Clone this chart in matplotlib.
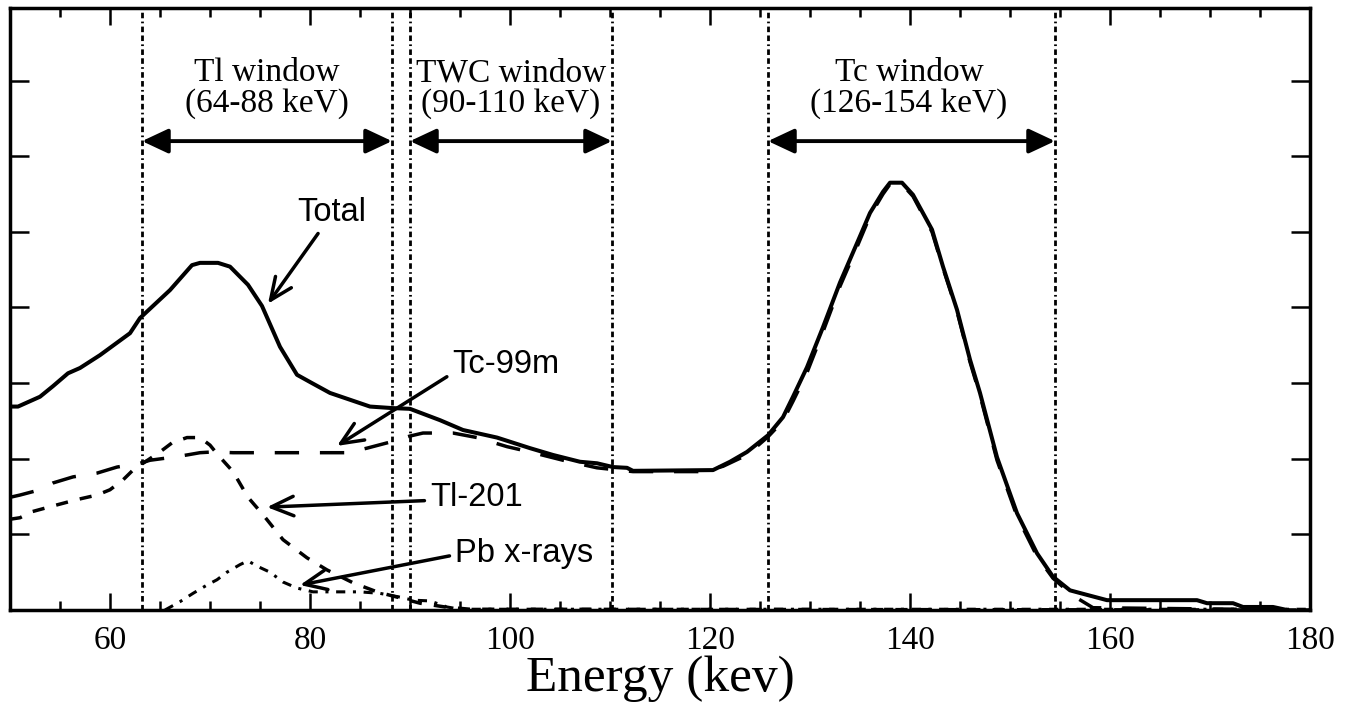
import matplotlib
matplotlib.use('Agg')
import matplotlib.pyplot as plt
from matplotlib.ticker import MultipleLocator

# energy (keV) / counts (arbitrary units)
total_e = [50.0, 50.8, 53.0, 54.3, 55.8, 57.0, 59.0, 62.0, 63.0, 66.0, 68.2, 69.0, 70.8, 72.0,
           73.8, 75.2, 77.0, 78.7, 80.2, 82.0, 84.0, 86.0, 88.2, 90.0, 93.0, 95.3, 98.7, 102.0,
           104.3, 107.0, 108.7, 110.3, 111.7, 112.3, 120.3, 122.0, 123.7, 125.8, 127.3, 128.3,
           129.7, 131.3, 133.0, 134.7, 136.0, 137.3, 138.0, 139.2, 140.3, 142.2, 143.3, 144.7,
           146.0, 147.0, 148.7, 150.7, 152.7, 154.3, 156.0, 157.7, 159.7, 168.7, 169.7, 172.3,
           173.3, 176.3, 177.7]
total_c = [2.69, 2.69, 2.82, 2.96, 3.13, 3.20, 3.37, 3.66, 3.86, 4.23, 4.56, 4.59, 4.59, 4.54,
           4.30, 4.02, 3.48, 3.11, 3.00, 2.87, 2.78, 2.69, 2.67, 2.66, 2.51, 2.38, 2.28, 2.14,
           2.05, 1.96, 1.94, 1.89, 1.88, 1.84, 1.85, 1.96, 2.09, 2.31, 2.55, 2.82,
           3.21, 3.74, 4.33, 4.85, 5.25, 5.53, 5.65, 5.65, 5.49, 5.03, 4.54, 3.97,
           3.31, 2.87, 2.02, 1.28, 0.75, 0.44, 0.26, 0.20, 0.13, 0.13, 0.09, 0.09,
           0.04, 0.04, 0.0]

tc_e = [50.0, 51.0, 53.0, 54.3, 56.3, 58.7, 60.7, 63.0, 64.0, 65.7, 67.7, 69.0, 70.3, 72.3,
        83.7, 85.7, 88.0, 90.0, 91.3, 94.3, 96.7, 99.7, 102.0, 105.3, 108.7, 112.3, 119.3,
        121.3, 123.7, 125.8, 127.3, 128.3, 129.7, 131.3, 133.0, 134.7, 136.0, 137.3, 138.0,
        139.2, 140.3, 142.2, 143.3, 144.7, 146.0, 147.0, 148.7, 150.7, 152.7, 154.3, 156.3,
        158.3, 180.0]
tc_c = [1.49, 1.52, 1.59, 1.68, 1.76, 1.81, 1.89, 1.94, 1.98, 2.01, 2.05, 2.08, 2.09, 2.08,
        2.08, 2.14, 2.22, 2.30, 2.34, 2.34, 2.28, 2.16, 2.09, 1.98, 1.88, 1.83, 1.83,
        1.90, 2.05, 2.29, 2.50, 2.76, 3.14, 3.68, 4.28, 4.80, 5.21, 5.50, 5.63,
        5.63, 5.47, 5.00, 4.52, 3.95, 3.28, 2.84, 1.98, 1.24, 0.71, 0.42, 0.19,
        0.03, 0.0]

tl_e = [50.0, 51.0, 52.2, 54.7, 56.7, 58.7, 60.0, 61.3, 62.3, 63.3, 65.0, 66.2, 67.7, 69.0,
        70.0, 70.8, 72.3, 73.8, 75.3, 77.3, 79.7, 81.7, 84.3, 86.7, 89.0, 91.0, 93.5, 96.0,
        180.0]
tl_c = [1.20, 1.22, 1.30, 1.39, 1.46, 1.52, 1.59, 1.72, 1.85, 1.94, 2.09, 2.21, 2.28, 2.28,
        2.18, 2.05, 1.83, 1.49, 1.26, 0.93, 0.69, 0.53, 0.36, 0.24, 0.16, 0.09, 0.04, 0.01,
        0.0]

pb_e = [65.5, 67.0, 68.3, 69.7, 70.7, 71.7, 73.0, 73.8, 74.7, 76.0, 77.3, 78.7, 80.3, 85.0,
        87.0, 89.0, 90.3, 92.0, 93.7, 95.0, 180.0]
pb_c = [0.0, 0.11, 0.22, 0.33, 0.40, 0.50, 0.60, 0.65, 0.58, 0.50, 0.37, 0.29, 0.24, 0.24,
        0.22, 0.17, 0.13, 0.12, 0.04, 0.01, 0.01]

window_lines = [63.2, 88.2, 90.0, 110.2, 125.8, 154.5]
windows = [(63.2, 88.2), (90.0, 110.2), (125.8, 154.5)]
window_labels = ['Tl window\n(64-88 keV)', 'TWC window\n(90-110 keV)', 'Tc window\n(126-154 keV)']
window_label_x = [75.7, 100.1, 139.9]

serif = ['Liberation Serif', 'DejaVu Serif']
sans = ['Liberation Sans', 'DejaVu Sans']

fig = plt.figure(figsize=(13.52, 7.13), dpi=100)
ax = fig.add_axes([10/1352, 103/713, 1300/1352, 602/713])

for x in window_lines:
    ax.axvline(x, color='k', lw=2.0, ls=(0, (2.0, 1.2, 2.0, 1.2, 0.6, 1.2)), zorder=1)

ax.plot(total_e, total_c, color='k', lw=2.9, solid_joinstyle='round', zorder=4)
ax.plot(tc_e, tc_c, color='k', lw=2.5, ls=(0, (7, 6)), zorder=3)
ax.plot(tl_e, tl_c, color='k', lw=2.5, ls=(0, (3.5, 3.5)), zorder=3)
ax.plot(pb_e, pb_c, color='k', lw=2.2, ls=(0, (3, 2.5, 1, 2.5)), zorder=3)

# window arrows and labels
for (a, b), lab, xc in zip(windows, window_labels, window_label_x):
    ax.annotate('', xy=(a, 6.2), xytext=(b, 6.2),
                arrowprops=dict(arrowstyle='<|-|>,head_length=1.6,head_width=0.75',
                                lw=2.8, color='k', shrinkA=0, shrinkB=0, mutation_scale=10))
    ax.text(xc, 6.9, lab, ha='center', va='center', fontsize=24, family=serif,
            linespacing=1.0)

# curve labels
arrow_kw = dict(arrowstyle='->,head_length=1.6,head_width=0.7', lw=2.5, color='k',
                shrinkA=2, shrinkB=0, mutation_scale=10)
ax.annotate('Total', xy=(75.8, 4.05), xytext=(82.2, 5.25), ha='center', va='center',
            fontsize=23.5, family=sans,
            arrowprops=dict(arrow_kw, relpos=(0.35, 0.0)))
ax.annotate('Tc-99m', xy=(82.7, 2.17), xytext=(94.2, 3.25), ha='left', va='center',
            fontsize=23.5, family=sans,
            arrowprops=dict(arrow_kw, relpos=(0.0, 0.2)))
ax.annotate('Tl-201', xy=(75.7, 1.36), xytext=(92.0, 1.49), ha='left', va='center',
            fontsize=23.5, family=sans,
            arrowprops=dict(arrow_kw, relpos=(0.0, 0.4)))
ax.annotate('Pb x-rays', xy=(79.0, 0.33), xytext=(94.5, 0.75), ha='left', va='center',
            fontsize=23.5, family=sans,
            arrowprops=dict(arrow_kw, relpos=(0.0, 0.45)))

ax.set_xlim(50, 180)
ax.set_ylim(0, 7.96)
ax.xaxis.set_major_locator(MultipleLocator(20))
ax.xaxis.set_minor_locator(MultipleLocator(5))
ax.yaxis.set_major_locator(MultipleLocator(1))
ax.tick_params(axis='x', which='major', direction='in', length=12, width=1.8,
               top=True, pad=11, labelsize=24)
ax.tick_params(axis='x', which='minor', direction='in', length=6.5, width=1.8, top=True)
ax.tick_params(axis='y', which='major', direction='in', length=14, width=1.8,
               right=True, labelleft=False)
for lbl in ax.get_xticklabels():
    lbl.set_family(serif)
for s in ax.spines.values():
    s.set_linewidth(2.5)

ax.set_xlabel('Energy (kev)', fontsize=37, family=serif, labelpad=0)

fig.savefig('out.png', dpi=100)
